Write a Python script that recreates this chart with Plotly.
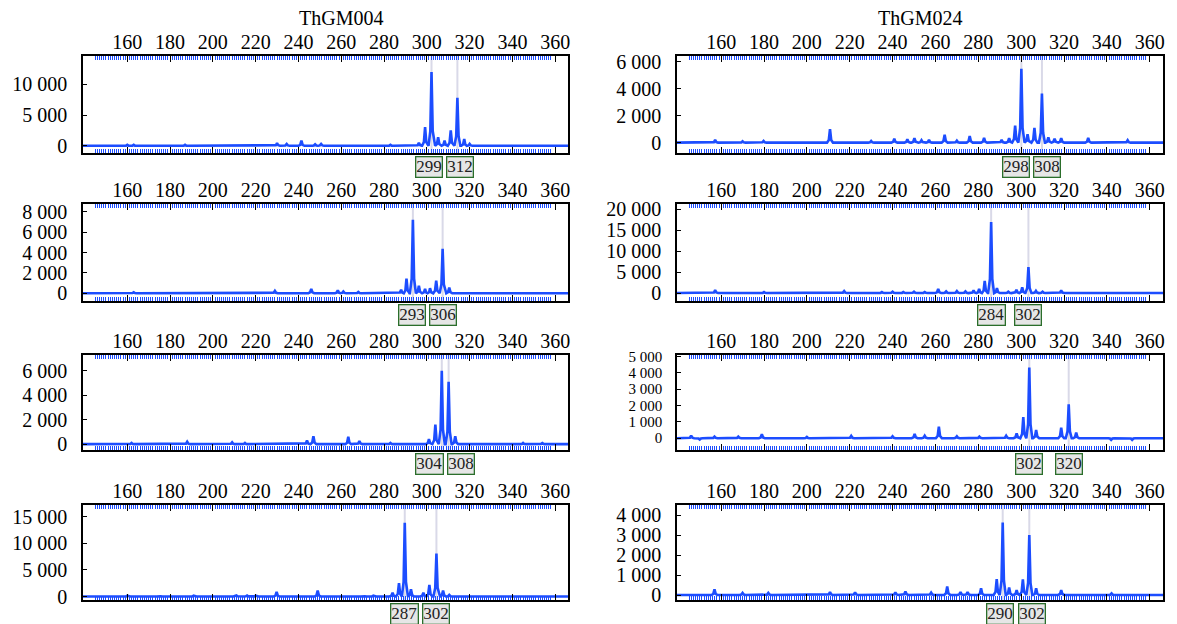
import plotly.graph_objects as go

# ---------------- data ----------------
titles = ["ThGM004", "ThGM024"]
x_ticks = [160, 180, 200, 220, 240, 260, 280, 300, 320, 340, 360]

# ThGM004 (left column)
L1_bp = [160, 163, 187, 208, 230, 234.5, 241.4, 247.8, 250.6, 262, 283, 296.3, 299.2, 302.2, 305.3, 308.3, 311.2, 314.3, 317.5, 320]
L1_rfu = [150, 150, 150, 100, 440, 300, 830, 250, 300, 120, 150, 500, 3050, 12000, 1400, 830, 2500, 7800, 1100, 300]
L1_allele_pos = [302.2, 314.3]
L1_allele_lab = ["299", "312"]

L2_bp = [163, 229, 246, 258.4, 261, 268, 288, 290.5, 293.5, 296.3, 299.2, 301.5, 304.4, 307.4, 310.5]
L2_rfu = [100, 235, 440, 300, 170, 120, 340, 1450, 7230, 740, 440, 500, 1240, 4370, 570]
L2_allele_pos = [293.5, 307.4]
L2_allele_lab = ["293", "306"]

L3_bp = [162, 188, 209, 215, 244, 247, 263.3, 268.5, 283, 301, 304, 307, 310.2, 313.3, 345, 354]
L3_rfu = [100, 200, 150, 100, 300, 650, 600, 250, 100, 400, 1600, 6000, 5100, 650, 100, 80]
L3_allele_pos = [307, 310.2]
L3_allele_lab = ["304", "308"]

L4_bp = [160, 175, 191, 211, 216, 220, 229.8, 249, 270.5, 275, 284, 287, 289.7, 292.6, 298.4, 301.2, 304.5, 307.6, 310.5]
L4_rfu = [150, 150, 150, 200, 200, 150, 880, 1130, 150, 150, 700, 2500, 13860, 1390, 700, 2200, 8070, 1130, 300]
L4_allele_pos = [289.7, 304.5]
L4_allele_lab = ["287", "302"]

# ThGM024 (right column)
R1_bp = [157.2, 170, 179.8, 210.8, 230, 240.8, 246.9, 250.2, 253.5, 257, 264.3, 270, 276, 282.7, 290.9, 294.4, 297.2, 300.1, 303, 306.2, 309.7, 312.7, 315.6, 318.7, 331.3, 349.7]
R1_rfu = [200, 100, 130, 1000, 120, 280, 250, 330, 180, 200, 580, 150, 480, 350, 200, 330, 1260, 5490, 630, 1100, 3650, 400, 300, 330, 350, 180]
R1_allele_pos = [300.1, 309.7]
R1_allele_lab = ["298", "308"]

R2_bp = [157.2, 180, 217.4, 235, 240, 245, 250, 255, 261.3, 265, 270, 274, 277.8, 280.4, 283, 286, 288.7, 294, 297.8, 300.5, 303.4, 306.9, 310, 318.7]
R2_rfu = [700, 230, 470, 250, 300, 250, 300, 250, 1000, 400, 450, 400, 630, 1000, 2900, 17000, 1180, 300, 780, 1400, 6200, 550, 300, 630]
R2_allele_pos = [286, 303.4]
R2_allele_lab = ["284", "302"]

R3_bp = [146, 150, 156.9, 168, 179, 200, 220.7, 240, 250.3, 255, 261.6, 270, 280.5, 293, 297.9, 301, 303.8, 307, 318.7, 322.2, 325.7, 342, 351.8]
R3_rfu = [160, -80, 100, 100, 245, 80, 140, 120, 265, 150, 710, 120, 100, 150, 300, 1290, 4330, 510, 650, 2080, 350, -100, -100]
R3_allele_pos = [303.8, 322.2]
R3_allele_lab = ["302", "320"]

R4_bp = [156.9, 170, 182, 210.8, 222.5, 241.3, 246, 258, 265.5, 271.7, 275, 281.3, 288.6, 291.4, 294.4, 297.9, 300.8, 303.8, 307, 318.7, 342.2]
R4_rfu = [280, 100, 100, 150, 130, 130, 180, 120, 420, 150, 150, 330, 800, 3620, 380, 250, 780, 3000, 330, 250, 80]
R4_allele_pos = [291.4, 303.8]
R4_allele_lab = ["290", "302"]

# y-axis ranges and tick steps per panel
L_y_range = [[-1170, 14600], [-760, 8770], [-480, 7300], [-650, 17220]]
L_y_dtick = [5000, 2000, 2000, 5000]
R_y_range = [[-770, 6430], [-1900, 21300], [-720, 5090], [-250, 4500]]
R_y_dtick = [2000, 5000, 1000, 1000]

# ---------------- layout geometry ----------------
W, H = 1177, 624
X_RANGES = [[139.3, 366], [139.4, 366.2]]
col_px = [(83, 568), (677, 1163)]
row_px = [(56, 153), (204, 301), (355, 450), (505, 600)]
FONT = "Liberation Serif"
BLUE = "#1c4dff"

panels = [
    (0, 0, L1_bp, L1_rfu, L1_allele_pos, L1_allele_lab, L_y_range[0], L_y_dtick[0]),
    (1, 0, L2_bp, L2_rfu, L2_allele_pos, L2_allele_lab, L_y_range[1], L_y_dtick[1]),
    (2, 0, L3_bp, L3_rfu, L3_allele_pos, L3_allele_lab, L_y_range[2], L_y_dtick[2]),
    (3, 0, L4_bp, L4_rfu, L4_allele_pos, L4_allele_lab, L_y_range[3], L_y_dtick[3]),
    (0, 1, R1_bp, R1_rfu, R1_allele_pos, R1_allele_lab, R_y_range[0], R_y_dtick[0]),
    (1, 1, R2_bp, R2_rfu, R2_allele_pos, R2_allele_lab, R_y_range[1], R_y_dtick[1]),
    (2, 1, R3_bp, R3_rfu, R3_allele_pos, R3_allele_lab, R_y_range[2], R_y_dtick[2]),
    (3, 1, R4_bp, R4_rfu, R4_allele_pos, R4_allele_lab, R_y_range[3], R_y_dtick[3]),
]


def build_line(bps, rfus, xr, half=1.4):
    pk = sorted(zip(bps, rfus))
    xs, ys = [xr[0]], [0]
    for i, (p, h) in enumerate(pk):
        lg = p - pk[i - 1][0] if i > 0 else 99
        rg = pk[i + 1][0] - p if i < len(pk) - 1 else 99
        wl, wr = min(half, lg / 2), min(half, rg / 2)
        xs += [p - wl, p - 0.4 * wl, p, p + 0.4 * wr, p + wr]
        ys += [0, 0.2 * h, h, 0.2 * h, 0]
    xs.append(xr[1])
    ys.append(0)
    return xs, ys


fig = go.Figure()
layout = dict(
    template="none",
    width=W, height=H, margin=dict(l=0, r=0, t=0, b=0, autoexpand=False),
    paper_bgcolor="white", plot_bgcolor="white", showlegend=False,
    separators=". ", font=dict(family=FONT, size=20, color="black"),
)
shapes, annotations = [], []
rug = list(range(145, 359))

for k, (r, c, bps, rfus, apos, alab, yr, ydt) in enumerate(panels):
    idx = k + 1
    xname = "xaxis" if idx == 1 else f"xaxis{idx}"
    yname = "yaxis" if idx == 1 else f"yaxis{idx}"
    xref = "x" if idx == 1 else f"x{idx}"
    yref = "y" if idx == 1 else f"y{idx}"
    xr = X_RANGES[c]
    x0p, x1p = col_px[c]
    y0p, y1p = row_px[r]
    xdom = [x0p / W, x1p / W]
    ydom = [1 - y1p / H, 1 - y0p / H]
    yfs = 15 if (c == 1 and r == 2) else 20
    layout[xname] = dict(
        domain=xdom, anchor=yref, range=xr, side="top", automargin=False,
        tickmode="array", tickvals=x_ticks, ticks="inside", ticklen=6,
        tickcolor="black", tickwidth=1, showline=True, linecolor="black",
        linewidth=1.5, mirror="allticks", showgrid=False, zeroline=False,
        tickfont=dict(family=FONT, size=20, color="black"), ticklabelstandoff=-3,
        minor=dict(tickmode="array", tickvals=rug, ticks="inside", ticklen=4,
                   tickcolor=BLUE, tickwidth=1.3, showgrid=False),
    )
    layout[yname] = dict(
        domain=ydom, anchor=xref, range=yr, dtick=ydt, tick0=0, automargin=False,
        ticks="inside", ticklen=4, tickcolor="black", showline=True,
        linecolor="black", linewidth=1.5, mirror=True, showgrid=False,
        zeroline=False, separatethousands=True, tickformat=",d",
        tickfont=dict(family=FONT, size=yfs, color="black"), ticklabelstandoff=10,
    )
    # allele lines
    for p in apos:
        shapes.append(dict(type="line", xref=xref, yref=f"{yref} domain",
                           x0=p, x1=p, y0=0, y1=1, layer="below",
                           line=dict(color="#d9d9e8", width=2)))
    xs, ys = build_line(bps, rfus, xr)
    fig.add_trace(go.Scatter(x=xs, y=ys, mode="lines", xaxis=xref, yaxis=yref,
                             line=dict(color=BLUE, width=2.6), hoverinfo="skip"))
    # allele label boxes (pushed apart if they would overlap)
    pxbp = (x1p - x0p) / (xr[1] - xr[0])
    boxw = 31
    shifts = [0] * len(apos)
    if len(apos) == 2:
        d = (apos[1] - apos[0]) * pxbp
        if d < boxw:
            s = (boxw - d) / 2
            shifts = [-s, s]
    for p, lab, s in zip(apos, alab, shifts):
        annotations.append(dict(
            x=p, y=ydom[0], xref=xref, yref="paper", text=lab, showarrow=False,
            xanchor="center", yanchor="top", yshift=-3, xshift=s,
            font=dict(family=FONT, size=17, color="#222"),
            bgcolor="#e6e6e6", bordercolor="#2b6e2b", borderwidth=1.3, borderpad=0,
        ))

for t, xc in zip(titles, [341, 920]):
    annotations.append(dict(x=xc / W, y=1 - 18 / H, xref="paper", yref="paper",
                            text=t, showarrow=False, xanchor="center", yanchor="middle",
                            font=dict(family=FONT, size=20, color="black")))

layout["shapes"] = shapes
layout["annotations"] = annotations
fig.update_layout(**layout)
fig.write_html("out.html")
